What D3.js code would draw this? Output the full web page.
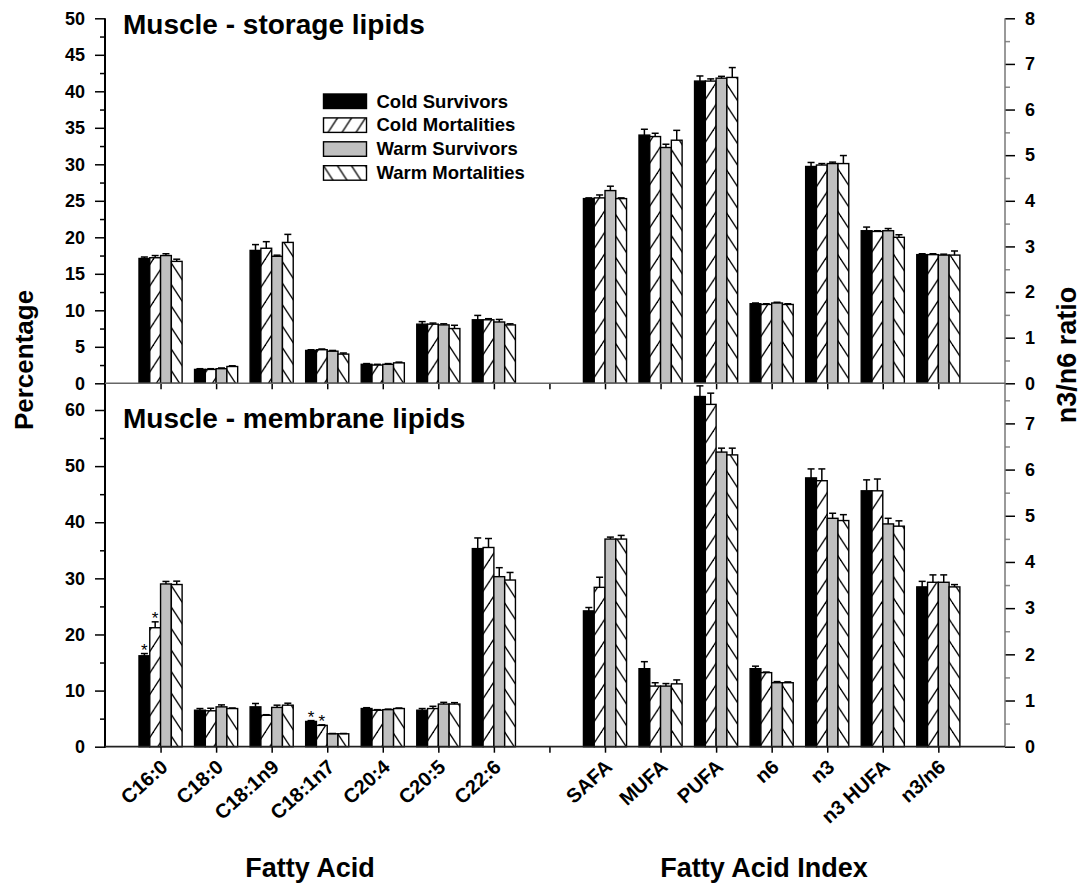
<!DOCTYPE html>
<html>
<head>
<meta charset="utf-8">
<script src="https://cdn.jsdelivr.net/npm/d3@7"></script>
<style>
  html, body { margin: 0; padding: 0; background: #fff; }
  svg { display: block; }
  text { font-family: "Liberation Sans", Arial, sans-serif; }
</style>
</head>
<body>
<svg id="chart" width="1085" height="886"></svg>
<script>
// ---------------- DATA ----------------
const fattyAcids = ["C16:0", "C18:0", "C18:1n9", "C18:1n7", "C20:4", "C20:5", "C22:6"];
const indices = ["SAFA", "MUFA", "PUFA", "n6", "n3", "n3 HUFA", "n3/n6"];
const seriesNames = ["Cold Survivors", "Cold Mortalities", "Warm Survivors", "Warm Mortalities"];

const leftTicksTop = [0, 5, 10, 15, 20, 25, 30, 35, 40, 45, 50];
const leftTicksBottom = [0, 10, 20, 30, 40, 50, 60];
const rightTicksTop = [0, 1, 2, 3, 4, 5, 6, 7, 8];
const rightTicksBottom = [0, 1, 2, 3, 4, 5, 6, 7];

// Storage lipids (percentage; last value = n3/n6 ratio on right axis)
const storageColdSurvivors    = [17.1, 1.9, 18.2, 4.5, 2.6, 8.1, 8.7, 25.3, 34.0, 41.4, 10.9, 29.7, 20.9, 2.82];
const storageColdSurvivorsSE  = [0.2, 0.1, 0.8, 0.1, 0.1, 0.35, 0.6, 0.1, 0.8, 0.7, 0.1, 0.55, 0.5, 0.02];
const storageColdMortalities  = [17.2, 1.9, 18.5, 4.6, 2.5, 8.1, 8.7, 25.4, 33.8, 41.4, 10.8, 29.9, 20.8, 2.82];
const storageColdMortalitiesSE= [0.3, 0.1, 0.9, 0.1, 0.1, 0.15, 0.15, 0.4, 0.45, 0.3, 0.1, 0.2, 0.1, 0.02];
const storageWarmSurvivors    = [17.5, 2.0, 17.4, 4.4, 2.6, 8.0, 8.4, 26.4, 32.3, 41.8, 11.0, 30.1, 20.9, 2.81];
const storageWarmSurvivorsSE  = [0.25, 0.1, 0.15, 0.1, 0.1, 0.15, 0.35, 0.6, 0.45, 0.25, 0.1, 0.2, 0.3, 0.02];
const storageWarmMortalities  = [16.7, 2.3, 19.3, 4.0, 2.8, 7.5, 8.0, 25.3, 33.3, 41.9, 10.8, 30.1, 20.0, 2.81];
const storageWarmMortalitiesSE= [0.3, 0.1, 1.1, 0.15, 0.1, 0.45, 0.15, 0.1, 1.35, 1.35, 0.1, 1.1, 0.35, 0.09];

// Membrane lipids
const membraneColdSurvivors    = [16.2, 6.5, 7.1, 4.5, 6.8, 6.5, 35.3, 24.2, 13.9, 62.4, 13.9, 47.9, 45.6, 3.46];
const membraneColdSurvivorsSE  = [0.4, 0.3, 0.6, 0.15, 0.15, 0.3, 1.9, 0.6, 1.25, 1.9, 0.45, 1.6, 1.95, 0.12];
const membraneColdMortalities  = [21.2, 6.4, 5.6, 3.8, 6.5, 6.8, 35.5, 28.4, 10.8, 61.0, 13.2, 47.4, 45.6, 3.56];
const membraneColdMortalitiesSE= [1.05, 0.45, 0.1, 0.1, 0.1, 0.4, 1.6, 1.8, 0.6, 2.0, 0.1, 2.1, 2.1, 0.16];
const membraneWarmSurvivors    = [29.0, 7.1, 7.0, 2.3, 6.6, 7.6, 30.3, 37.0, 10.8, 52.5, 11.4, 40.7, 39.7, 3.56];
const membraneWarmSurvivorsSE  = [0.45, 0.35, 0.4, 0.05, 0.1, 0.3, 1.6, 0.35, 0.45, 0.7, 0.2, 0.9, 1.0, 0.16];
const membraneWarmMortalities  = [28.9, 6.8, 7.4, 2.3, 6.8, 7.6, 29.7, 37.0, 11.2, 52.0, 11.4, 40.3, 39.3, 3.46];
const membraneWarmMortalitiesSE= [0.6, 0.1, 0.35, 0.05, 0.1, 0.25, 1.35, 0.65, 0.7, 1.2, 0.15, 1.05, 0.95, 0.05];

// significance markers (category index, series index) in membrane panel
const membraneSignificant = [[0, 0], [0, 1], [3, 0], [3, 1]];

// ---------------- LAYOUT ----------------
const svg = d3.select("#chart");
const L = 105, R = 1005, TOP = 18.3, MID = 383.3, BOT = 746.7;
const FONT = '"Liberation Sans", Arial, sans-serif';

const labels = [...fattyAcids, "", ...indices];
const xPos = d3.scaleLinear().domain([-1, 15.2]).range([L, R]);
const barW = xPos(0.194) - xPos(0);
const posOf = i => (i < fattyAcids.length ? i : i + 1);

const yTop = d3.scaleLinear().domain([0, 50]).range([MID, TOP]);
const yTopR = d3.scaleLinear().domain([0, 8]).range([MID, TOP]);
const yBot = d3.scaleLinear().domain([0, 60 * (BOT - MID) / (BOT - 410)]).range([BOT, MID]);
const yBotR = d3.scaleLinear().domain([0, 7 * (BOT - MID) / (BOT - 423.4)]).range([BOT, MID]);

// patterns
const defs = svg.append("defs");
function hatch(id, dir) {
  const w = 14, h = 21.5;
  const p = defs.append("pattern").attr("id", id)
    .attr("patternUnits", "userSpaceOnUse").attr("width", w).attr("height", h);
  p.append("rect").attr("width", w).attr("height", h).attr("fill", "#fff");
  const segs = dir > 0
    ? [[0, h, w, 0], [-w, h, 0, 0], [w, h, 2 * w, 0], [0, 2 * h, w, h], [0, 0, w, -h]]
    : [[0, 0, w, h], [-w, 0, 0, h], [w, 0, 2 * w, h], [0, -h, w, 0], [0, h, w, 2 * h]];
  segs.forEach(s => p.append("line").attr("x1", s[0]).attr("y1", s[1]).attr("x2", s[2]).attr("y2", s[3])
    .attr("stroke", "#000").attr("stroke-width", 1.3));
}
hatch("fwd", 1);
hatch("bwd", -1);
const fills = ["#000", "url(#fwd)", "#c0c0c0", "url(#bwd)"];

const panels = [
  { y: yTop, yR: yTopR, vals: [storageColdSurvivors, storageColdMortalities, storageWarmSurvivors, storageWarmMortalities],
    se: [storageColdSurvivorsSE, storageColdMortalitiesSE, storageWarmSurvivorsSE, storageWarmMortalitiesSE], sig: [] },
  { y: yBot, yR: yBotR, vals: [membraneColdSurvivors, membraneColdMortalities, membraneWarmSurvivors, membraneWarmMortalities],
    se: [membraneColdSurvivorsSE, membraneColdMortalitiesSE, membraneWarmSurvivorsSE, membraneWarmMortalitiesSE], sig: membraneSignificant }
];

panels.forEach(panel => {
  const g = svg.append("g");
  const items = [];
  panel.vals.forEach((arr, s) => arr.forEach((v, i) => {
    const sc = i === arr.length - 1 ? panel.yR : panel.y;
    items.push({ s, i, v, e: panel.se[s][i], sc });
  }));
  const bx = d => xPos(posOf(d.i)) + (d.s - 2) * barW;
  g.selectAll("rect.bar").data(items).join("rect").attr("class", "bar")
    .attr("x", bx).attr("width", barW)
    .attr("y", d => d.sc(d.v)).attr("height", d => d.sc(0) - d.sc(d.v))
    .attr("fill", d => fills[d.s]).attr("stroke", "#000").attr("stroke-width", 1.4);
  // error bars
  const eg = g.selectAll("g.err").data(items).join("g").attr("class", "err");
  eg.append("line").attr("x1", d => bx(d) + barW / 2).attr("x2", d => bx(d) + barW / 2)
    .attr("y1", d => d.sc(d.v)).attr("y2", d => d.sc(d.v + d.e))
    .attr("stroke", "#000").attr("stroke-width", 1.5);
  eg.append("line").attr("x1", d => bx(d) + barW / 2 - 3.5).attr("x2", d => bx(d) + barW / 2 + 3.5)
    .attr("y1", d => d.sc(d.v + d.e)).attr("y2", d => d.sc(d.v + d.e))
    .attr("stroke", "#000").attr("stroke-width", 1.5);
  // significance
  panel.sig.forEach(([i, s]) => {
    const d = items.find(t => t.i === i && t.s === s);
    g.append("text").attr("x", bx(d) + barW / 2).attr("y", d.sc(d.v + d.e) + 2)
      .attr("text-anchor", "middle").attr("font-size", 17).attr("font-family", FONT).text("*");
  });
});

// ---------------- AXES ----------------
function styleAxis(sel) {
  sel.select(".domain").remove();
  sel.selectAll("text").attr("font-family", FONT).attr("font-size", 18).attr("font-weight", "bold").attr("fill", "#000");
  sel.selectAll("line").attr("stroke-width", 1.5);
}
const halfs = (lo, hi, step) => d3.range(lo + step / 2, hi, step);

// left axes
svg.append("g").attr("transform", `translate(${L},0)`)
  .call(d3.axisLeft(yTop).tickValues(leftTicksTop).tickSize(10).tickPadding(10).tickFormat(d3.format("d"))).call(styleAxis);
svg.append("g").attr("transform", `translate(${L},0)`)
  .call(d3.axisLeft(yTop).tickValues(halfs(0, 50, 5)).tickSize(5).tickFormat("")).call(styleAxis);
svg.append("g").attr("transform", `translate(${L},0)`)
  .call(d3.axisLeft(yBot).tickValues(leftTicksBottom).tickSize(10).tickPadding(10).tickFormat(d3.format("d"))).call(styleAxis);
svg.append("g").attr("transform", `translate(${L},0)`)
  .call(d3.axisLeft(yBot).tickValues(halfs(0, 60, 10)).tickSize(5).tickFormat("")).call(styleAxis);
svg.append("line").attr("x1", L).attr("x2", L).attr("y1", TOP).attr("y2", BOT + 1).attr("stroke", "#000").attr("stroke-width", 2);

// right axes
svg.append("g").attr("transform", `translate(${R},0)`)
  .call(d3.axisRight(yTopR).tickValues(rightTicksTop).tickSize(10).tickPadding(10).tickFormat(d3.format("d"))).call(styleAxis);
svg.append("g").attr("transform", `translate(${R},0)`)
  .call(d3.axisRight(yTopR).tickValues(halfs(0, 8, 1)).tickSize(5).tickFormat("")).call(styleAxis)
  .selectAll("line").attr("stroke", "#888");
svg.append("g").attr("transform", `translate(${R},0)`)
  .call(d3.axisRight(yBotR).tickValues(rightTicksBottom).tickSize(10).tickPadding(10).tickFormat(d3.format("d"))).call(styleAxis);
svg.append("g").attr("transform", `translate(${R},0)`)
  .call(d3.axisRight(yBotR).tickValues(halfs(0, 8, 1)).tickSize(5).tickFormat("")).call(styleAxis)
  .selectAll("line").attr("stroke", "#888");
svg.append("line").attr("x1", R).attr("x2", R).attr("y1", TOP).attr("y2", BOT).attr("stroke", "#777").attr("stroke-width", 1.5);

// x axes
svg.append("g").attr("transform", `translate(0,${MID})`)
  .call(d3.axisBottom(xPos).tickValues(d3.range(labels.length)).tickSize(6).tickFormat("")).call(styleAxis);
svg.append("line").attr("x1", L).attr("x2", R).attr("y1", MID).attr("y2", MID).attr("stroke", "#666").attr("stroke-width", 1.5);

const xb = svg.append("g").attr("transform", `translate(0,${BOT})`)
  .call(d3.axisBottom(xPos).tickValues(d3.range(labels.length)).tickSize(6).tickFormat(i => labels[i])).call(styleAxis);
xb.selectAll("text").attr("font-size", 20).attr("text-anchor", "end")
  .attr("transform", "translate(8,22) rotate(-42)").attr("y", 0).attr("dy", 0);
svg.append("line").attr("x1", L).attr("x2", R).attr("y1", BOT).attr("y2", BOT).attr("stroke", "#222").attr("stroke-width", 1.8);

// ---------------- TEXT ----------------
const bold = sel => sel.attr("font-family", FONT).attr("font-weight", "bold").attr("fill", "#000");
svg.append("text").attr("x", 123).attr("y", 34).attr("font-size", 28).call(bold).text("Muscle - storage lipids");
svg.append("text").attr("x", 123).attr("y", 428).attr("font-size", 28).call(bold).text("Muscle - membrane lipids");

svg.append("text").attr("transform", "translate(33,360) rotate(-90)").attr("text-anchor", "middle")
  .attr("font-size", 26).call(bold).text("Percentage");
svg.append("text").attr("transform", "translate(1076,355) rotate(-90)").attr("text-anchor", "middle")
  .attr("font-size", 27).call(bold).text("n3/n6 ratio");

svg.append("text").attr("x", 310).attr("y", 877).attr("text-anchor", "middle").attr("font-size", 27).call(bold).text("Fatty Acid");
svg.append("text").attr("x", 764).attr("y", 877).attr("text-anchor", "middle").attr("font-size", 27).call(bold).text("Fatty Acid Index");

// legend
const lg = svg.append("g").attr("transform", "translate(323.5,94)");
seriesNames.forEach((name, s) => {
  const row = lg.append("g").attr("transform", `translate(0,${s * 23.9})`);
  row.append("rect").attr("width", 43).attr("height", 14.5).attr("fill", fills[s])
    .attr("stroke", "#000").attr("stroke-width", 1.4);
  row.append("text").attr("x", 53).attr("y", 13.5).attr("font-size", 18.5).call(bold).text(name);
});
</script>
</body>
</html>
